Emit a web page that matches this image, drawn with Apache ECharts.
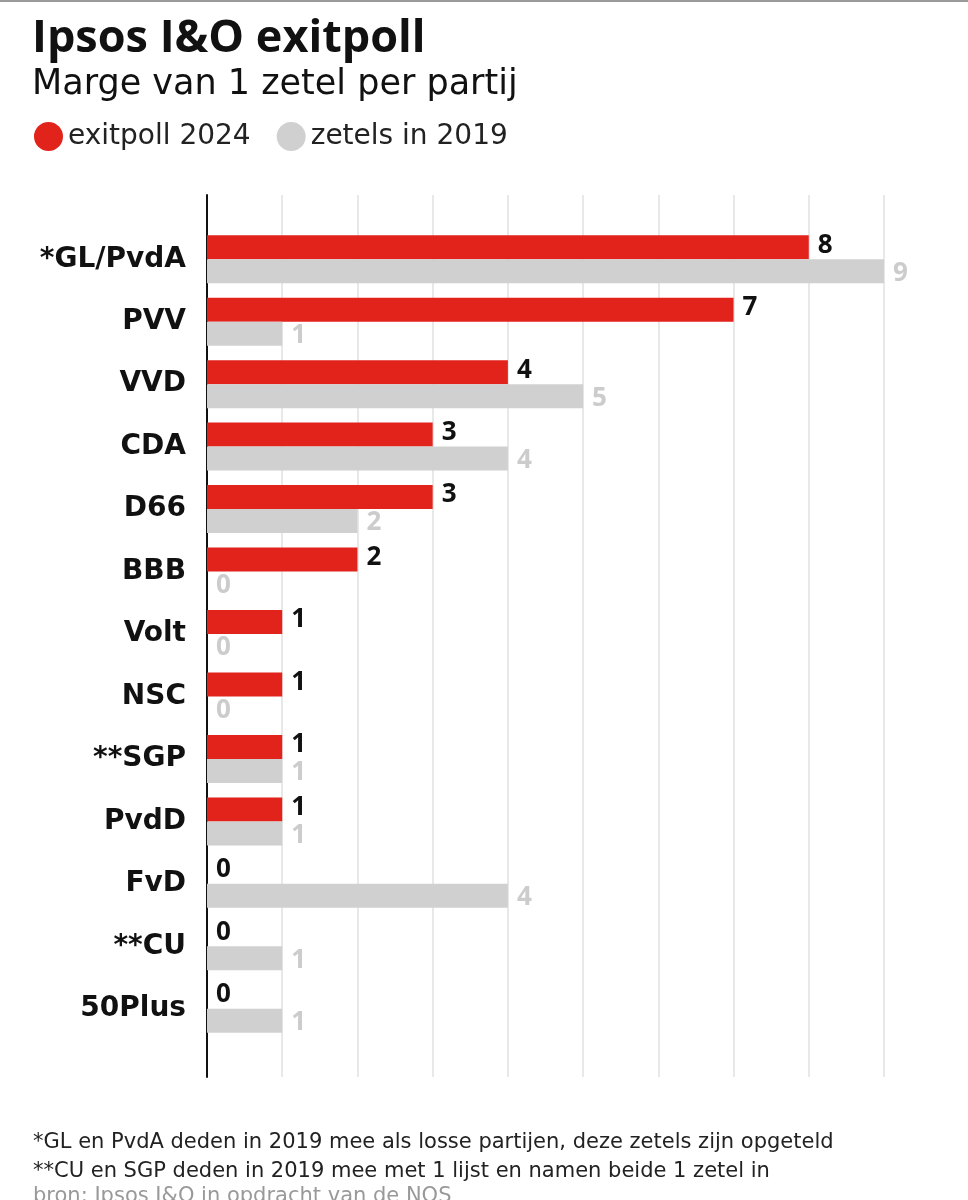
<!DOCTYPE html>
<html>
<head>
<meta charset="utf-8">
<script src="https://cdn.jsdelivr.net/npm/echarts@6/dist/echarts.min.js"></script>
<style>
  html, body { margin: 0; padding: 0; background: #fff; }
  #chart { width: 968px; height: 1200px; }
</style>
</head>
<body>
<div id="chart"></div>
<script>
const parties = ["*GL/PvdA", "PVV", "VVD", "CDA", "D66", "BBB", "Volt", "NSC", "**SGP", "PvdD", "FvD", "**CU", "50Plus"];
const exitpoll2024 = [8, 7, 4, 3, 3, 2, 1, 1, 1, 1, 0, 0, 0];
const zetels2019 = [9, 1, 5, 4, 2, 0, 0, 0, 1, 1, 4, 1, 1];
const xTicks = [0, 1, 2, 3, 4, 5, 6, 7, 8, 9];

const font = "'Open Sans', Lato, sans-serif";
const wide = "'DejaVu Sans', 'Open Sans', sans-serif";
const red = "#e2231c";
const grey = "#d0d0d0";

const myChart = echarts.init(document.getElementById("chart"));

let option = {
  backgroundColor: "#fff",
  textStyle: { fontFamily: font },
  title: [
    {
      text: "Ipsos I&O exitpoll",
      subtext: "Marge van 1 zetel per partij",
      left: 27,
      top: 12,
      itemGap: 5,
      textStyle: { fontFamily: font, fontSize: 45, fontWeight: "bold", color: "#111" },
      subtextStyle: { fontFamily: wide, fontSize: 35, color: "#111" }
    },
    {
      text: "*GL en PvdA deden in 2019 mee als losse partijen, deze zetels zijn opgeteld\n**CU en SGP deden in 2019 mee met 1 lijst en namen beide 1 zetel in",
      left: 28,
      top: 1123,
      textStyle: {
        fontFamily: wide,
        fontSize: 21,
        fontWeight: "normal",
        color: "#222",
        lineHeight: 29
      }
    },
    {
      text: "bron: Ipsos I&O in opdracht van de NOS",
      left: 28,
      top: 1181,
      textStyle: {
        fontFamily: wide,
        fontSize: 21,
        fontWeight: "normal",
        color: "#999"
      }
    }
  ],
  legend: {
    data: ["exitpoll 2024", "zetels in 2019"],
    left: 29,
    top: 117,
    icon: "circle",
    itemWidth: 29,
    itemHeight: 29,
    itemGap: 26,
    textStyle: { fontFamily: wide, fontSize: 28, color: "#222" }
  },
  graphic: [
    { type: "rect", shape: { x: 0, y: 0, width: 968, height: 2 }, style: { fill: "#9a9a9a" } }
  ],
  grid: [
    { left: 207, right: 84, top: 195, bottom: 123 },
    { left: 207, right: 84, top: 228, bottom: 160 }
  ],
  xAxis: [
    {
      gridIndex: 0,
      type: "value",
      min: xTicks[0],
      max: xTicks[xTicks.length - 1],
      interval: 1,
      axisLine: { show: false },
      axisTick: { show: false },
      axisLabel: { show: false },
      splitLine: { show: true, lineStyle: { color: "#e0e0e0", width: 1.5 } }
    },
    {
      gridIndex: 1,
      type: "value",
      min: xTicks[0],
      max: xTicks[xTicks.length - 1],
      interval: 1,
      axisLine: { show: false },
      axisTick: { show: false },
      axisLabel: { show: false },
      splitLine: { show: false }
    }
  ],
  yAxis: [
    {
      gridIndex: 0,
      type: "category",
      data: [""],
      axisLine: { show: true, lineStyle: { color: "#111", width: 2 } },
      axisTick: { show: false },
      axisLabel: { show: false }
    },
    {
      gridIndex: 1,
      type: "category",
      inverse: true,
      data: parties,
      axisLine: { show: false },
      axisTick: { show: false },
      axisLabel: {
        margin: 21,
        fontFamily: wide,
        fontSize: 28,
        fontWeight: "bold",
        color: "#111"
      }
    }
  ],
  series: [
    {
      name: "exitpoll 2024",
      type: "bar",
      xAxisIndex: 1,
      yAxisIndex: 1,
      data: exitpoll2024,
      barWidth: 24,
      barGap: "0%",
      itemStyle: { color: red },
      label: {
        show: true,
        position: "right",
        distance: 9,
        fontFamily: font,
        fontSize: 26,
        fontWeight: "bold",
        color: "#111",
        offset: [0, -2]
      }
    },
    {
      name: "zetels in 2019",
      type: "bar",
      xAxisIndex: 1,
      yAxisIndex: 1,
      data: zetels2019,
      barWidth: 24,
      itemStyle: { color: grey },
      label: {
        show: true,
        position: "right",
        distance: 9,
        fontFamily: font,
        fontSize: 26,
        fontWeight: "bold",
        color: "#cccccc",
        offset: [0, 2]
      }
    }
  ]
};
myChart.setOption(option);
window.addEventListener("resize", () => myChart.resize());
</script>
</body>
</html>
